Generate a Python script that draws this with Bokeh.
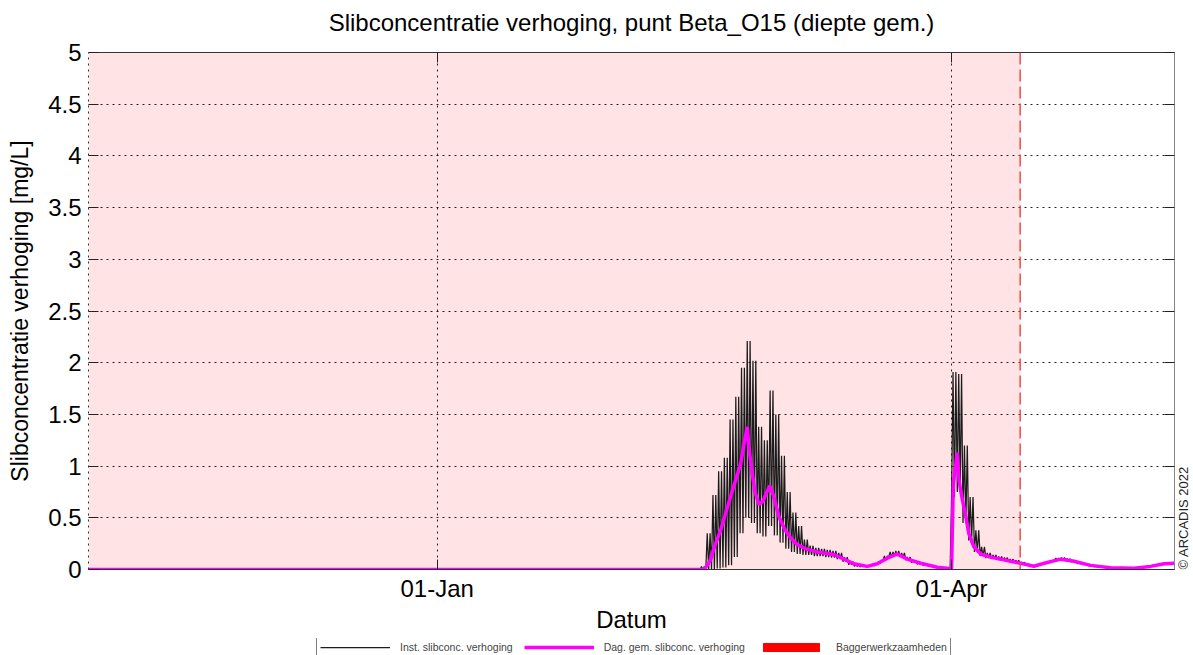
import pandas as pd
from bokeh.plotting import figure
from bokeh.layouts import column, row
from bokeh.models import (Range1d, FixedTicker, DatetimeTickFormatter, DatetimeAxis,
                          LinearAxis, Legend, LegendItem, ColumnDataSource, Span, Label)
from bokeh.embed import file_html
from bokeh.resources import INLINE
import math

# ---- data -------------------------------------------------------------
# day offsets relative to 01-Jan-2022
base = pd.Timestamp("2022-01-01")
view_start_day = -61          # 01-Nov-2021
view_end_day = 129            # 10-May-2022

# dredging period (Baggerwerkzaamheden)
dredge_start_day = -61
dredge_end_day = 102          # 13-Apr-2022

# daily extremes of the instantaneous concentration increase [mg/L]
inst_days = list(range(45, 130))
inst_high = [0.0, 0.03, 0.35, 0.72, 0.95, 1.08, 1.45, 1.67, 1.95, 2.21,
             2.02, 1.38, 1.25, 1.73, 1.50, 1.10, 0.75, 0.55, 0.42, 0.29,
             0.23, 0.21, 0.20, 0.19, 0.18, 0.16, 0.12, 0.075, 0.05, 0.04,
             0.04, 0.055, 0.08, 0.13, 0.17, 0.18, 0.16, 0.12, 0.09, 0.065,
             0.05, 0.04, 0.03, 0.02, 0.012, 1.91, 1.89, 1.20, 0.70, 0.38,
             0.22, 0.16, 0.14, 0.125, 0.115, 0.10, 0.09, 0.07, 0.05, 0.04,
             0.05, 0.065, 0.085, 0.11, 0.115, 0.105, 0.09, 0.07, 0.055, 0.045,
             0.035, 0.028, 0.02, 0.018, 0.016, 0.015, 0.015, 0.018, 0.024, 0.032,
             0.042, 0.055, 0.06, 0.065, 0.065]
inst_low = [0.0, 0.0, 0.0, 0.0, 0.01, 0.02, 0.04, 0.12, 0.35, 0.50,
            0.45, 0.35, 0.32, 0.42, 0.33, 0.26, 0.20, 0.17, 0.15, 0.14,
            0.14, 0.13, 0.13, 0.12, 0.115, 0.10, 0.075, 0.045, 0.03, 0.025,
            0.025, 0.035, 0.055, 0.09, 0.12, 0.13, 0.12, 0.09, 0.065, 0.05,
            0.04, 0.03, 0.02, 0.012, 0.005, 0.70, 0.75, 0.45, 0.28, 0.17,
            0.13, 0.11, 0.105, 0.095, 0.085, 0.075, 0.065, 0.055, 0.04, 0.03,
            0.04, 0.055, 0.07, 0.09, 0.09, 0.085, 0.07, 0.055, 0.045, 0.035,
            0.025, 0.02, 0.015, 0.012, 0.01, 0.01, 0.01, 0.012, 0.018, 0.025,
            0.035, 0.045, 0.05, 0.055, 0.055]

# daily averaged concentration increase [mg/L]
avg_days = [-61, 46.5, 47.0, 47.8, 48.5, 49.6, 50.5, 51.3, 52.2, 53.1, 53.7,
            54.25, 54.5, 55.0, 55.6, 56.3, 57.0, 57.6, 58.2, 58.8, 59.8,
            60.8, 61.8, 63.0, 64.5, 66.5, 69.4, 71.2, 72.9, 75.25, 77.0,
            78.75, 80.5, 82.25, 84.6, 87.5, 89.5, 90.0, 90.3, 91.0, 91.3,
            91.9, 92.5, 93.0, 93.9, 95.1, 96.8, 98.6, 100.3, 102.1, 104.4,
            106.2, 109.1, 111.4, 114.3, 117.8, 121.9, 124.8, 127.2, 129.1]
avg_vals = [0.0, 0.0, 0.02, 0.09, 0.22, 0.38, 0.55, 0.70, 0.86, 1.02, 1.22,
            1.38, 1.20, 0.98, 0.75, 0.63, 0.66, 0.74, 0.81, 0.72, 0.51,
            0.39, 0.31, 0.24, 0.20, 0.17, 0.145, 0.10, 0.055, 0.03, 0.055,
            0.11, 0.15, 0.10, 0.06, 0.022, 0.01, 0.01, 0.83, 1.13, 0.86,
            0.67, 0.51, 0.35, 0.22, 0.15, 0.12, 0.10, 0.08, 0.06, 0.032,
            0.06, 0.10, 0.08, 0.04, 0.016, 0.013, 0.03, 0.055, 0.06]

y_ticks = [0, 0.5, 1, 1.5, 2, 2.5, 3, 3.5, 4, 4.5, 5]
x_tick_days = [0, 90]          # 01-Jan, 01-Apr

legend_labels = ["Inst. slibconc. verhoging", "Dag. gem. slibconc. verhoging",
                 "Baggerwerkzaamheden"]
copyright_text = "\u00a9 ARCADIS 2022"


def to_dt(days):
    return base + pd.to_timedelta(days, unit="D")


def to_ms(days):
    return to_dt(days).value / 1e6


# semidiurnal tide: two high/low pairs per day
inst_x = [to_dt(view_start_day), to_dt(inst_days[0])]
inst_y = [0.0, 0.0]
for d, hi, lo in zip(inst_days, inst_high, inst_low):
    for frac, v in ((0.0, lo), (0.25, hi), (0.5, lo), (0.75, hi)):
        inst_x.append(to_dt(d + frac))
        inst_y.append(v)

avg_x = [to_dt(d) for d in avg_days]

band_data = dict(left=[to_dt(dredge_start_day)], right=[to_dt(dredge_end_day)],
                 bottom=[y_ticks[0]], top=[y_ticks[-1]])

FONT = "Liberation Sans"
INST_STYLE = dict(line_color="#111111", line_width=1.25, line_alpha=0.95)
AVG_STYLE = dict(line_color="#FF00FF", line_width=3.5)
TOP, BOTTOM = 52, 69

# ---- main chart -------------------------------------------------------
y_range = Range1d(0, 5)
p = figure(width=1177, height=638, x_axis_type="datetime",
           x_range=Range1d(to_dt(view_start_day), to_dt(view_end_day)),
           y_range=y_range,
           output_backend="svg", toolbar_location=None,
           min_border_left=88, min_border_right=3,
           min_border_top=TOP, min_border_bottom=BOTTOM,
           background_fill_color="white", border_fill_color="white")

p.title.text = "Slibconcentratie verhoging, punt Beta_O15 (diepte gem.)"
p.title.align = "center"
p.title.text_font = FONT
p.title.text_font_size = "24px"
p.title.text_font_style = "normal"
p.title.text_color = "black"
p.title.standoff = 0

# dredging period shading and its end marker
p.quad(left="left", right="right", bottom="bottom", top="top",
       source=ColumnDataSource(band_data),
       fill_color="#FFE3E5", line_color=None, level="image")
p.add_layout(Span(location=to_ms(dredge_end_day), dimension="height",
                  line_color="#EE4B4B", line_width=1.5, line_dash="12 5"))

p.line(inst_x, inst_y, **INST_STYLE)
p.line(avg_x, avg_vals, **AVG_STYLE)

# axes
x_ticker = FixedTicker(ticks=[to_ms(d) for d in x_tick_days])
y_ticker = FixedTicker(ticks=y_ticks)
fmt = DatetimeTickFormatter(days="%d-%b", months="%d-%b", years="%d-%b",
                            hours="%d-%b", minutes="%d-%b")

xa = p.xaxis[0]
xa.ticker = x_ticker
xa.formatter = fmt
xa.axis_label = "Datum"
ya = p.yaxis[0]
ya.ticker = y_ticker
ya.major_label_overrides = {t: f"{t:g}" for t in y_ticks}
ya.axis_label = "Slibconcentratie verhoging [mg/L]"

top_ax = DatetimeAxis(ticker=x_ticker, formatter=fmt)
gap_ax = DatetimeAxis(ticker=x_ticker, formatter=fmt)   # spacing below the title
right_ax = LinearAxis(ticker=y_ticker)
p.add_layout(top_ax, "above")
p.add_layout(gap_ax, "above")
p.add_layout(right_ax, "right")

for ax in (xa, ya, top_ax, gap_ax, right_ax):
    ax.major_tick_in = 10
    ax.major_tick_out = 0
    ax.minor_tick_line_color = None
    ax.major_tick_line_color = "#222222"
    ax.axis_line_color = "#333333"
    ax.major_label_text_font = FONT
    ax.major_label_text_font_size = "24px"
    ax.major_label_text_color = "black"
    ax.axis_label_text_font = FONT
    ax.axis_label_text_font_size = "24px"
    ax.axis_label_text_font_style = "normal"
    ax.axis_label_text_color = "black"

# frame-only axes: ticks, no labels
for ax in (top_ax, gap_ax, right_ax):
    ax.major_label_text_font_size = "1px"
    ax.major_label_text_color = None
    ax.major_label_standoff = 0
right_ax.axis_line_color = "#888888"

gap_ax.axis_line_color = None
gap_ax.major_tick_line_color = None
gap_ax.major_tick_in = 0
gap_ax.major_tick_out = 17

ya.axis_line_dash = "2 4"
ya.major_label_standoff = 7
ya.axis_label_standoff = 12
ya.axis_label_text_font_size = "23px"
xa.major_label_standoff = 5
xa.axis_label_standoff = 1

p.xgrid.ticker = x_ticker
p.ygrid.ticker = y_ticker
for g in (p.xgrid, p.ygrid):
    g.grid_line_color = "black"
    g.grid_line_alpha = 0.85
    g.grid_line_dash = "2 4"
    g.grid_line_width = 1

p.outline_line_color = None

# ---- copyright strip on the right ---------------------------------------
nf = figure(width=16, height=638, x_range=Range1d(0, 1), y_range=y_range,
            output_backend="svg", toolbar_location=None,
            x_axis_location=None, y_axis_location=None,
            min_border_left=0, min_border_right=0,
            min_border_top=TOP, min_border_bottom=BOTTOM,
            outline_line_color=None,
            background_fill_color="white", border_fill_color="white")
nf.xgrid.visible = False
nf.ygrid.visible = False
nf.add_layout(Label(x=0.4, y=y_ticks[0], text=copyright_text, angle=math.pi / 2,
                    text_font=FONT, text_font_size="13px", text_color="#222222",
                    text_align="left", text_baseline="middle"))

# ---- legend strip -----------------------------------------------------
# the strip's y window lies below the data, so only the legend shows
lf = figure(width=1193, height=17, x_axis_type="datetime",
            x_range=Range1d(to_dt(view_start_day), to_dt(view_end_day)),
            y_range=Range1d(-2, -1),
            output_backend="svg", toolbar_location=None,
            x_axis_location=None, y_axis_location=None,
            min_border=0, outline_line_color=None,
            background_fill_color="white", border_fill_color="white")
lf.xgrid.visible = False
lf.ygrid.visible = False
r_inst = lf.line(inst_x, inst_y, **INST_STYLE)
r_avg = lf.line(avg_x, avg_vals, **AVG_STYLE)
r_band = lf.quad(left="left", right="right", bottom="bottom", top="top",
                 source=ColumnDataSource(band_data), fill_color="red", line_color="red")

legend = Legend(items=[LegendItem(label=legend_labels[0], renderers=[r_inst]),
                       LegendItem(label=legend_labels[1], renderers=[r_avg]),
                       LegendItem(label=legend_labels[2], renderers=[r_band])],
                orientation="horizontal", location=(316, -2),
                glyph_width=70, glyph_height=10, label_height=10,
                label_standoff=10, spacing=11, padding=3, margin=0,
                label_text_font=FONT, label_text_font_size="10.5px",
                border_line_color="black", border_line_width=1,
                background_fill_color="white", background_fill_alpha=1)
lf.add_layout(legend)

root = column(row(p, nf, spacing=0), lf, spacing=0)
open("out.html", "w").write(file_html(root, INLINE))
